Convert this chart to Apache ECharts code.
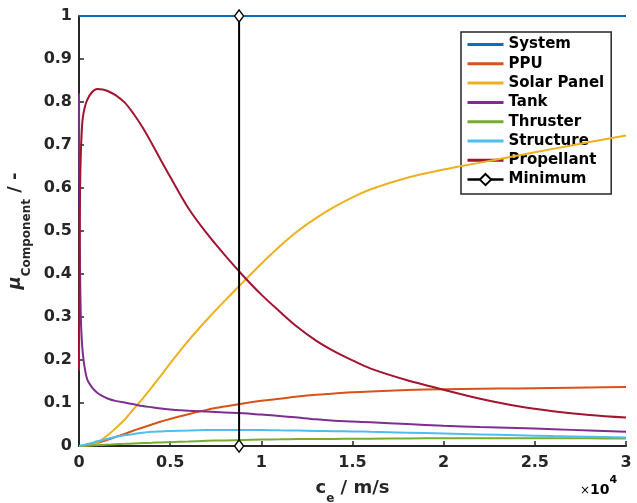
<!DOCTYPE html>
<html>
<head>
<meta charset="utf-8">
<script src="https://cdn.jsdelivr.net/npm/echarts@6/dist/echarts.min.js"></script>
<style>
  html, body { margin: 0; padding: 0; background: #fff; }
  #chart { width: 637px; height: 503px; }
</style>
</head>
<body>
<div id="chart"></div>
<script>
// Exhaust velocity samples (m/s); denser near zero where the fractions change fast
const ce = [0, 30, 60, 100, 150, 200, 300, 450, 700, 1000, 1300, 1600, 2000, 2500, 3000, 3500,
  4000, 4500, 5000, 6000, 7000, 8000, 9000, 10000, 11000, 12000, 13000, 14000, 15000, 16000,
  18000, 20000, 22000, 24000, 26000, 28000, 30000];

// Component mass fractions at each exhaust velocity
const systemFrac = ce.map(() => 1);
const ppuFrac = [0, 0, 0.0001, 0.0002, 0.0004, 0.0006, 0.001, 0.002, 0.004, 0.007, 0.011, 0.015,
  0.021, 0.028, 0.036, 0.043, 0.050, 0.057, 0.063, 0.074, 0.084, 0.092, 0.099, 0.105, 0.110,
  0.115, 0.119, 0.122, 0.125, 0.127, 0.130, 0.132, 0.133, 0.134, 0.135, 0.136, 0.137];
const solarFrac = [0, 0, 0, 0, 0, 0, 0.0005, 0.001, 0.003, 0.008, 0.016, 0.026, 0.041, 0.061,
  0.086, 0.111, 0.137, 0.164, 0.192, 0.245, 0.293, 0.338, 0.381, 0.424, 0.464, 0.500, 0.530,
  0.556, 0.578, 0.597, 0.624, 0.643, 0.659, 0.675, 0.691, 0.707, 0.722];
const tankFrac = [0.82, 0.55, 0.40, 0.30, 0.25, 0.22, 0.185, 0.155, 0.137, 0.124, 0.116, 0.110,
  0.105, 0.101, 0.097, 0.093, 0.090, 0.087, 0.085, 0.082, 0.080, 0.078, 0.076, 0.073, 0.070,
  0.066, 0.062, 0.059, 0.057, 0.055, 0.051, 0.047, 0.044, 0.042, 0.039, 0.036, 0.033];
const thrusterFrac = [0, 0.0001, 0.0001, 0.0002, 0.0003, 0.0004, 0.0006, 0.0009, 0.0014, 0.002,
  0.0026, 0.0032, 0.004, 0.005, 0.006, 0.0068, 0.0075, 0.0083, 0.009, 0.0105, 0.012, 0.013,
  0.014, 0.015, 0.0155, 0.016, 0.0163, 0.0165, 0.0168, 0.017, 0.0175, 0.018, 0.018, 0.018,
  0.018, 0.0178, 0.0175];
const structureFrac = [0, 0.0003, 0.0006, 0.001, 0.0015, 0.002, 0.003, 0.0045, 0.007, 0.011,
  0.014, 0.017, 0.021, 0.025, 0.028, 0.031, 0.033, 0.034, 0.035, 0.036, 0.037, 0.0375, 0.0375,
  0.037, 0.0365, 0.036, 0.035, 0.0345, 0.034, 0.033, 0.031, 0.029, 0.027, 0.025, 0.023,
  0.0215, 0.020];
const propellantFrac = [0.175, 0.45, 0.60, 0.68, 0.73, 0.76, 0.785, 0.805, 0.822, 0.830, 0.829,
  0.825, 0.816, 0.799, 0.772, 0.740, 0.703, 0.664, 0.626, 0.553, 0.495, 0.444, 0.396, 0.352,
  0.313, 0.276, 0.245, 0.220, 0.199, 0.180, 0.153, 0.131, 0.110, 0.093, 0.081, 0.072, 0.066];

// Optimum exhaust velocity (m/s) marked by a vertical line
const minimumCe = 8780;
const minimumSpan = [0, 1];

const seriesNames = ['System', 'PPU', 'Solar Panel', 'Tank', 'Thruster', 'Structure', 'Propellant', 'Minimum'];
const seriesColors = ['#0072BD', '#D95319', '#EDB120', '#7E2F8E', '#77AC30', '#4DBEEE', '#A2142F', '#000000'];
const fractionSets = [systemFrac, ppuFrac, solarFrac, tankFrac, thrusterFrac, structureFrac, propellantFrac];

const axisColor = '#262626';
const fontFamily = 'DejaVu Sans';

const pairs = ys => ce.map((x, i) => [x, ys[i]]);

const series = fractionSets.map((ys, i) => ({
  name: seriesNames[i],
  type: 'line',
  data: pairs(ys),
  symbol: 'none',
  smooth: 0.35,
  clip: false,
  lineStyle: { color: seriesColors[i], width: 2 },
  itemStyle: { color: seriesColors[i] },
  z: 2 + i
}));

series.push({
  name: seriesNames[7],
  type: 'line',
  data: minimumSpan.map(v => [minimumCe, v]),
  symbol: 'diamond',
  symbolSize: [9, 12],
  showSymbol: true,
  clip: false,
  lineStyle: { color: '#000', width: 2 },
  itemStyle: { color: '#fff', borderColor: '#000', borderWidth: 1.5 },
  z: 20
});

// Legend entries: plain line swatches for the curves, line + diamond for the minimum
const legendData = seriesNames.map((name, i) =>
  i < 7 ? { name, itemStyle: { opacity: 0 }, lineStyle: { width: 3 } } : { name, lineStyle: { width: 2.5 } });

const chart = echarts.init(document.getElementById('chart'), null, { renderer: 'canvas' });
chart.setOption({
  animation: false,
  backgroundColor: '#fff',
  grid: { left: 79, right: 11, top: 16, bottom: 57, containLabel: false, outerBoundsMode: 'none' },
  xAxis: {
    type: 'value',
    min: 0, max: 30000, interval: 5000,
    name: '{v|c}{sub|e}{v| / m/s}',
    nameLocation: 'middle',
    nameGap: 33,
    nameTextStyle: {
      rich: {
        v: { fontFamily, fontSize: 18, fontWeight: 'bold', color: axisColor, lineHeight: 26, verticalAlign: 'top' },
        sub: { fontFamily, fontSize: 12, fontWeight: 'bold', color: axisColor, lineHeight: 12, verticalAlign: 'bottom' }
      }
    },
    axisLine: { show: true, onZero: false, lineStyle: { color: axisColor, width: 2 } },
    axisTick: { show: true, inside: true, length: 5, lineStyle: { color: axisColor, width: 1.5 } },
    axisLabel: {
      fontFamily, fontSize: 16, fontWeight: 'bold', color: axisColor, margin: 9,
      formatter: v => String(v / 10000)
    },
    splitLine: { show: false }
  },
  yAxis: {
    type: 'value',
    min: 0, max: 1, interval: 0.1,
    name: '{mu|μ}{sub|Component}{v| / -}',
    nameLocation: 'middle',
    nameRotate: 90,
    nameGap: 45,
    nameTextStyle: {
      rich: {
        mu: { fontFamily, fontSize: 18, fontStyle: 'italic', fontWeight: 'bold', color: axisColor, lineHeight: 26, verticalAlign: 'top' },
        v: { fontFamily, fontSize: 18, fontWeight: 'bold', color: axisColor, lineHeight: 26, verticalAlign: 'top' },
        sub: { fontFamily, fontSize: 12, fontWeight: 'bold', color: axisColor, lineHeight: 12, verticalAlign: 'bottom' }
      }
    },
    axisLine: { show: true, onZero: false, lineStyle: { color: axisColor, width: 2 } },
    axisTick: { show: true, inside: true, length: 5, lineStyle: { color: axisColor, width: 1.5 } },
    axisLabel: { fontFamily, fontSize: 16, fontWeight: 'bold', color: axisColor, margin: 7 },
    splitLine: { show: false }
  },
  legend: {
    orient: 'vertical',
    left: 461, top: 32,
    data: legendData,
    itemWidth: 36,
    itemHeight: 14,
    itemGap: 4.3,
    padding: [5, 7, 7, 5],
    backgroundColor: '#fff',
    borderColor: axisColor,
    borderWidth: 1.5,
    borderRadius: 0,
    textStyle: { fontFamily, fontSize: 15, fontWeight: 'bold', color: '#000', lineHeight: 14 },
    selectedMode: false
  },
  graphic: [{
    type: 'text',
    left: 580, top: 475,
    style: {
      text: '{x|×}{b|10}{sup|4}',
      rich: {
        x: { fontFamily, fontSize: 12, color: axisColor, lineHeight: 22, verticalAlign: 'bottom' },
        b: { fontFamily, fontSize: 14, fontWeight: 'bold', color: axisColor, lineHeight: 22, verticalAlign: 'bottom' },
        sup: { fontFamily, fontSize: 11, fontWeight: 'bold', color: axisColor, lineHeight: 11, verticalAlign: 'top' }
      }
    }
  }],
  series
});
</script>
</body>
</html>
